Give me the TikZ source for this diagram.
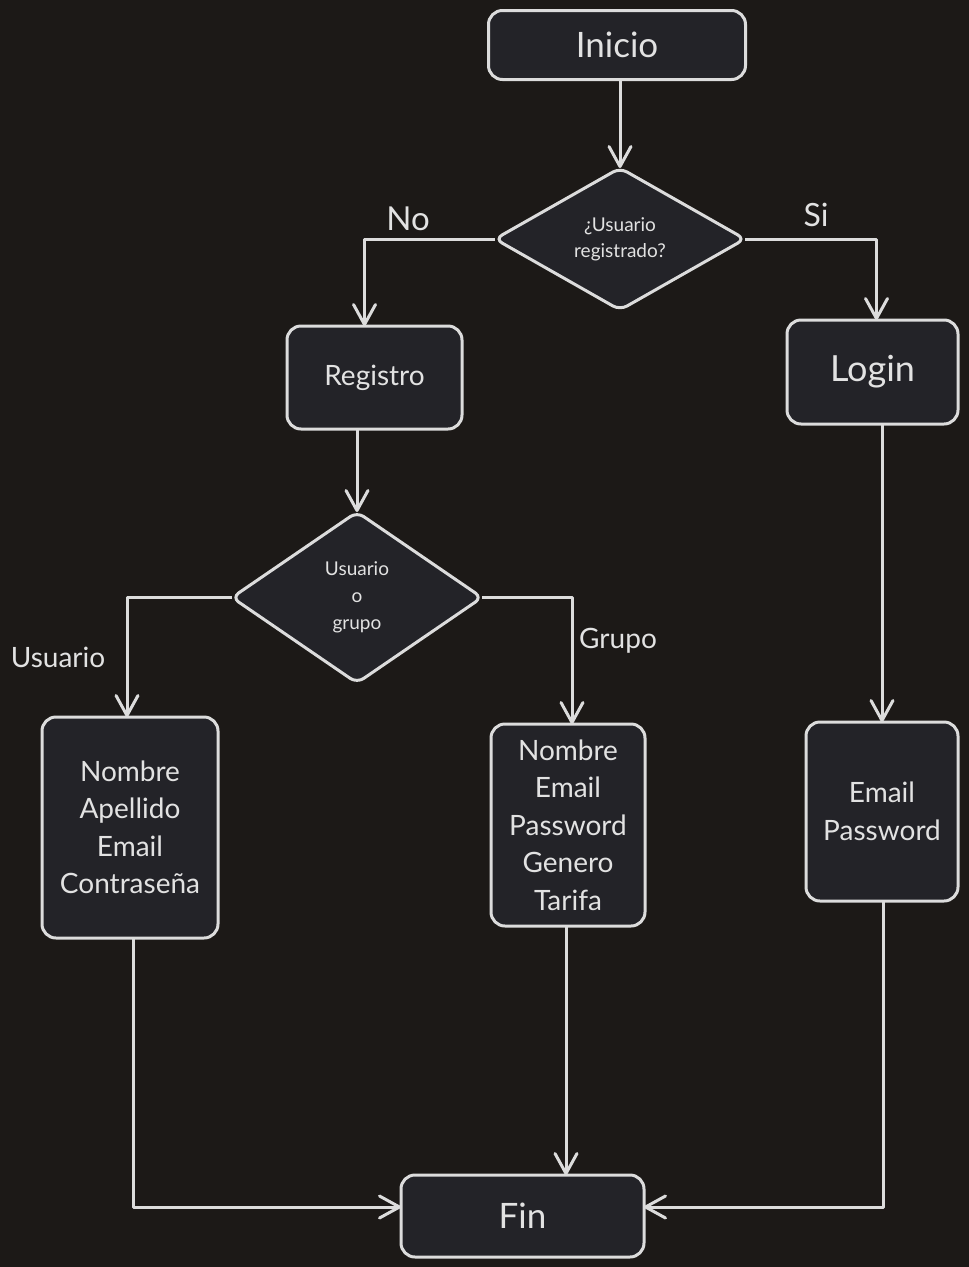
\documentclass[tikz,border=0pt]{standalone}
\usepackage{fontspec}
\setmainfont{Lato}
\usetikzlibrary{shapes.geometric,arrows.meta,calc}
\definecolor{bgc}{HTML}{1C1917}
\definecolor{fillc}{HTML}{232328}
\definecolor{linec}{HTML}{DCDCDC}
\definecolor{txtc}{HTML}{E2E2E2}
\tikzset{
 box/.style={draw=linec, fill=fillc, line width=3pt, rounded corners=14pt, text=txtc, align=center, outer sep=0pt, inner sep=0pt},
 dia/.style={draw=linec, fill=fillc, line width=3pt, diamond, rounded corners=8pt, text=txtc, align=center, outer sep=0pt, inner sep=0pt, aspect=1.76},
 conn/.style={draw=linec, line width=3pt, -{Straight Barb[length=20pt,width=22pt,round]}, line join=round},
 lbl/.style={text=txtc},
}
\begin{document}
\begin{tikzpicture}[x=1pt,y=-1pt]
\fill[bgc] (0,0) rectangle (969,1267);
\useasboundingbox (0,0) rectangle (969,1267);
% nodes
\node[box, minimum width=257pt, minimum height=69pt, font=\fontsize{35}{35}\selectfont] (inicio) at (617,45) {Inicio};
\node[dia, minimum width=250pt, minimum height=142pt, font=\fontsize{19}{26}\selectfont] (d1) at (620,239) {¿Usuario\\registrado?};
\node[box, minimum width=175pt, minimum height=103pt, font=\fontsize{28}{28}\selectfont] (reg) at (374.5,377.5) {Registro};
\node[box, minimum width=171pt, minimum height=104pt, font=\fontsize{36}{36}\selectfont] (login) at (872.5,372) {Login};
\node[dia, minimum width=250pt, minimum height=171pt, font=\fontsize{19}{27}\selectfont] (d2) at (357,597.5) {Usuario\\o\\grupo};
\node[box, minimum width=176pt, minimum height=221pt, font=\fontsize{28}{37.5}\selectfont] (usr) at (130,827.5) {Nombre\\Apellido\\Email\\Contraseña};
\node[box, minimum width=154pt, minimum height=202pt, font=\fontsize{28}{37.5}\selectfont] (grp) at (568,825) {Nombre\\Email\\Password\\Genero\\Tarifa};
\node[box, minimum width=152pt, minimum height=179pt, font=\fontsize{28}{37.5}\selectfont] (em) at (882,811.5) {Email\\Password};
\node[box, minimum width=243pt, minimum height=82pt, font=\fontsize{35}{35}\selectfont] (fin) at (522.5,1216) {Fin};
% labels
\node[lbl, font=\fontsize{33}{33}\selectfont] (lno) at (408,219) {No};
\node[lbl, font=\fontsize{32}{32}\selectfont] (lsi) at (816,215) {Si};
\node[lbl, font=\fontsize{28}{28}\selectfont] (lusr) at (58,657) {Usuario};
\node[lbl, font=\fontsize{28}{28}\selectfont] (lgrp) at (618,641) {Grupo};
% connectors
\draw[conn] (inicio.south -| d1.north) -- (d1.north);
\draw[conn] (d1.west) -| ([xshift=-10pt]reg.north);
\draw[conn] (d1.east) -| ([xshift=4pt]login.north);
\draw[conn] (reg.south -| d2.north) -- (d2.north);
\draw[conn] (d2.west) -| ([xshift=-3pt]usr.north);
\draw[conn] (d2.east) -| ([xshift=4pt]grp.north);
\draw[conn] (login.south -| em.north) -- (em.north);
\draw[conn] ([xshift=3pt]usr.south) |- ([yshift=9pt]fin.west);
\coordinate (g1) at ([xshift=-2pt]grp.south);
\draw[conn] (g1) -- (g1 |- fin.north);
\draw[conn] ([xshift=1pt]em.south) |- ([yshift=9pt]fin.east);
\end{tikzpicture}
\end{document}
